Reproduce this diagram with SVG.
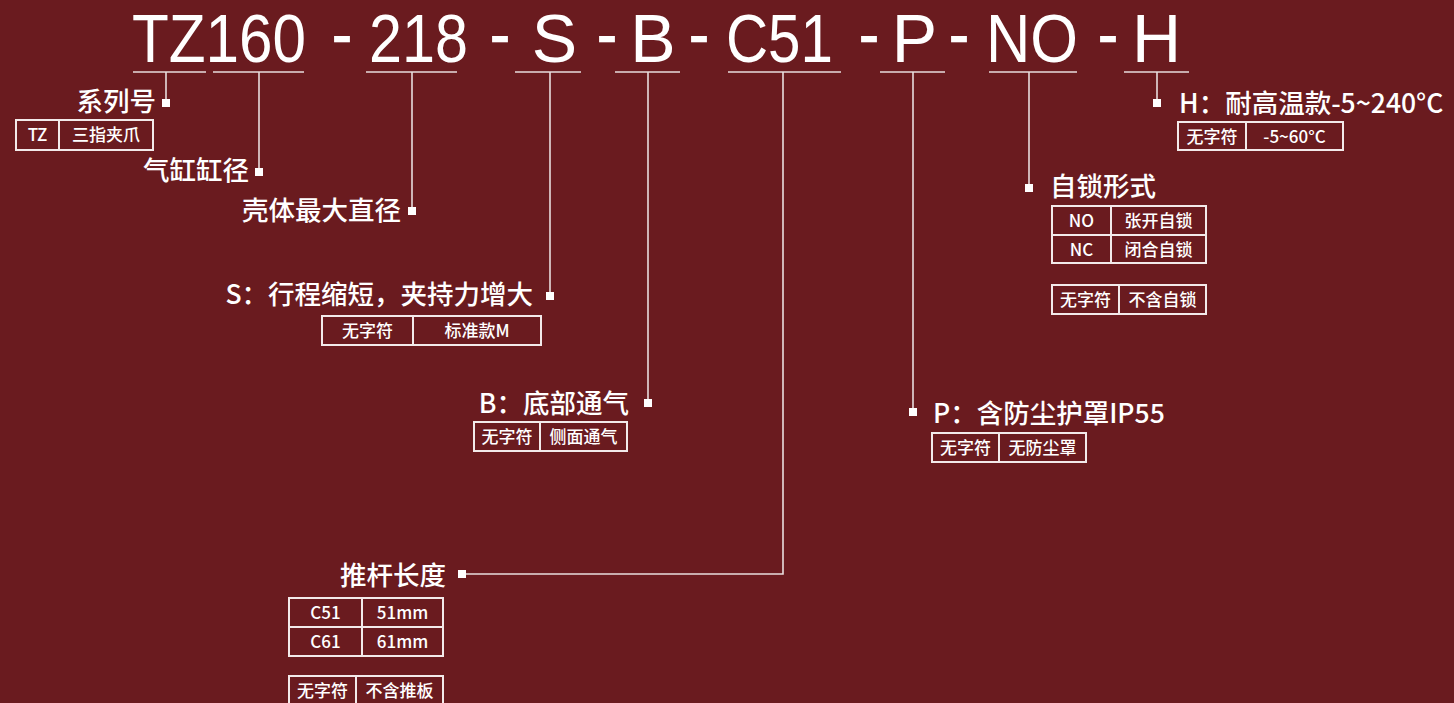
<svg xmlns="http://www.w3.org/2000/svg" width="1454" height="703" viewBox="0 0 1454 703">
<style>
.title{font-family:"Liberation Sans","Noto Sans",sans-serif;font-size:68px;fill:#fff;text-anchor:middle}
.dash{font-family:"Liberation Sans","Noto Sans",sans-serif;font-size:50px;fill:#fff;stroke:#fff;stroke-width:2.4;text-anchor:middle}
.lbl{font-family:"Noto Sans CJK SC","Noto Sans",sans-serif;font-size:26.5px;font-weight:500;fill:#fff}
.end{text-anchor:end}
.cell{font-family:"Noto Sans CJK SC","Noto Sans",sans-serif;font-size:17px;font-weight:500;fill:#fff;text-anchor:middle}
.tbl{fill:none;stroke:#f3eaea;stroke-width:2}
.ln{fill:none;stroke:#e9dede;stroke-width:1.6}
.mk{fill:#fff}
</style>
<rect x="0" y="0" width="1454" height="703" fill="#6a1b1f"/>

<g id="title">
<text class="title" x="219" y="62" textLength="174" lengthAdjust="spacingAndGlyphs">TZ160</text>
<text class="dash" x="342" y="52" textLength="18" lengthAdjust="spacingAndGlyphs">-</text>
<text class="title" x="418.5" y="62" textLength="99" lengthAdjust="spacingAndGlyphs">218</text>
<text class="dash" x="500" y="52" textLength="18" lengthAdjust="spacingAndGlyphs">-</text>
<text class="title" x="554.5" y="62">S</text>
<text class="dash" x="607" y="52" textLength="18" lengthAdjust="spacingAndGlyphs">-</text>
<text class="title" x="653" y="62">B</text>
<text class="dash" x="699" y="52" textLength="18" lengthAdjust="spacingAndGlyphs">-</text>
<text class="title" x="779.5" y="62" textLength="107" lengthAdjust="spacingAndGlyphs">C51</text>
<text class="dash" x="869" y="52" textLength="18" lengthAdjust="spacingAndGlyphs">-</text>
<text class="title" x="914.5" y="62">P</text>
<text class="dash" x="959" y="52" textLength="18" lengthAdjust="spacingAndGlyphs">-</text>
<text class="title" x="1032" y="62" textLength="92" lengthAdjust="spacingAndGlyphs">NO</text>
<text class="dash" x="1108" y="52" textLength="18" lengthAdjust="spacingAndGlyphs">-</text>
<text class="title" x="1156.5" y="62">H</text>
</g>

<g id="connectors">
<line class="ln" x1="133" y1="72" x2="206" y2="72"/>
<line class="ln" x1="213" y1="72" x2="304" y2="72"/>
<line class="ln" x1="366" y1="72" x2="457" y2="72"/>
<line class="ln" x1="515" y1="72" x2="581" y2="72"/>
<line class="ln" x1="615" y1="72" x2="680" y2="72"/>
<line class="ln" x1="728" y1="72" x2="841" y2="72"/>
<line class="ln" x1="880" y1="72" x2="945" y2="72"/>
<line class="ln" x1="989" y1="72" x2="1077" y2="72"/>
<line class="ln" x1="1124" y1="72" x2="1189" y2="72"/>

<line class="ln" x1="166" y1="72" x2="166" y2="103"/>
<line class="ln" x1="259" y1="72" x2="259" y2="172"/>
<line class="ln" x1="412" y1="72" x2="412" y2="211"/>
<line class="ln" x1="550" y1="72" x2="550" y2="296"/>
<line class="ln" x1="648" y1="72" x2="648" y2="403"/>
<polyline class="ln" points="783,72 783,574 462,574"/>
<line class="ln" x1="913" y1="72" x2="913" y2="412"/>
<line class="ln" x1="1029" y1="72" x2="1029" y2="188"/>
<line class="ln" x1="1157" y1="72" x2="1157" y2="103"/>

<rect class="mk" x="162" y="99" width="8" height="8"/>
<rect class="mk" x="255" y="168" width="8" height="8"/>
<rect class="mk" x="408" y="207" width="8" height="8"/>
<rect class="mk" x="546" y="292" width="8" height="8"/>
<rect class="mk" x="644" y="399" width="8" height="8"/>
<rect class="mk" x="458" y="570" width="8" height="8"/>
<rect class="mk" x="909" y="408" width="8" height="8"/>
<rect class="mk" x="1025" y="184" width="8" height="8"/>
<rect class="mk" x="1153" y="99" width="8" height="8"/>
</g>

<g id="node-series">
<text class="lbl end" x="156" y="111">系列号</text>
<rect class="tbl" x="16" y="120" width="137" height="30"/>
<line class="tbl" x1="59" y1="120" x2="59" y2="150"/>
<text class="cell" x="37.5" y="141">TZ</text>
<text class="cell" x="106" y="141">三指夹爪</text>
</g>

<g id="node-bore">
<text class="lbl end" x="249" y="180">气缸缸径</text>
</g>

<g id="node-shell">
<text class="lbl end" x="401" y="220">壳体最大直径</text>
</g>

<g id="node-s">
<text class="lbl end" x="533" y="304">S：行程缩短，夹持力增大</text>
<rect class="tbl" x="322" y="316" width="219" height="29"/>
<line class="tbl" x1="413" y1="316" x2="413" y2="345"/>
<text class="cell" x="367.5" y="337">无字符</text>
<text class="cell" x="477" y="337">标准款M</text>
</g>

<g id="node-b">
<text class="lbl end" x="629" y="413">B：底部通气</text>
<rect class="tbl" x="474" y="422" width="153" height="29"/>
<line class="tbl" x1="540" y1="422" x2="540" y2="451"/>
<text class="cell" x="507" y="443">无字符</text>
<text class="cell" x="583.5" y="443">侧面通气</text>
</g>

<g id="node-rod">
<text class="lbl end" x="446" y="585">推杆长度</text>
<rect class="tbl" x="289" y="598" width="154" height="58"/>
<line class="tbl" x1="289" y1="627" x2="443" y2="627"/>
<line class="tbl" x1="362" y1="598" x2="362" y2="656"/>
<text class="cell" x="325.5" y="619">C51</text>
<text class="cell" x="402.5" y="619">51mm</text>
<text class="cell" x="325.5" y="648">C61</text>
<text class="cell" x="402.5" y="648">61mm</text>
<rect class="tbl" x="289" y="676" width="154" height="30"/>
<line class="tbl" x1="356" y1="676" x2="356" y2="706"/>
<text class="cell" x="322.5" y="697">无字符</text>
<text class="cell" x="399.5" y="697">不含推板</text>
</g>

<g id="node-p">
<text class="lbl" x="933" y="423">P：含防尘护罩IP55</text>
<rect class="tbl" x="932" y="433" width="154" height="29"/>
<line class="tbl" x1="999" y1="433" x2="999" y2="462"/>
<text class="cell" x="965.5" y="454">无字符</text>
<text class="cell" x="1042.5" y="454">无防尘罩</text>
</g>

<g id="node-lock">
<text class="lbl" x="1050" y="196">自锁形式</text>
<rect class="tbl" x="1052" y="206" width="154" height="57"/>
<line class="tbl" x1="1052" y1="235" x2="1206" y2="235"/>
<line class="tbl" x1="1111" y1="206" x2="1111" y2="263"/>
<text class="cell" x="1081.5" y="227">NO</text>
<text class="cell" x="1158.5" y="227">张开自锁</text>
<text class="cell" x="1081.5" y="256">NC</text>
<text class="cell" x="1158.5" y="256">闭合自锁</text>
<rect class="tbl" x="1052" y="285" width="154" height="29"/>
<line class="tbl" x1="1119" y1="285" x2="1119" y2="314"/>
<text class="cell" x="1085.5" y="306">无字符</text>
<text class="cell" x="1162.5" y="306">不含自锁</text>
</g>

<g id="node-h">
<text class="lbl" x="1179" y="113">H：耐高温款-5~240°C</text>
<rect class="tbl" x="1178" y="122" width="165" height="28"/>
<line class="tbl" x1="1246" y1="122" x2="1246" y2="150"/>
<text class="cell" x="1212" y="143">无字符</text>
<text class="cell" x="1294.5" y="143">-5~60°C</text>
</g>
</svg>
